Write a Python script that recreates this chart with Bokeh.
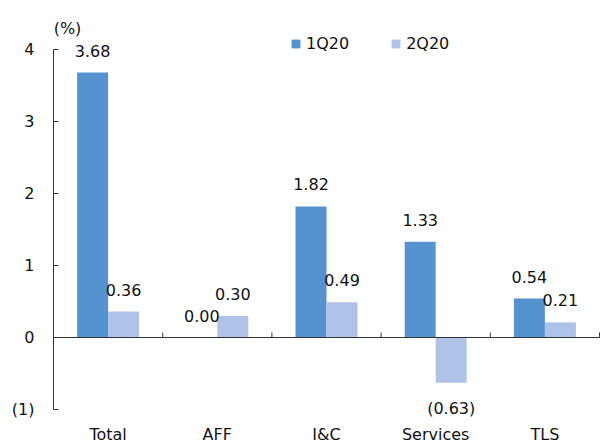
from bokeh.plotting import figure
from bokeh.models import Range1d, FixedTicker, Label, Legend, LegendItem, ColumnDataSource
from bokeh.embed import file_html
from bokeh.resources import INLINE
from bokeh.core.properties import value

# Growth by sector, quarter over quarter (%)
categories = ["Total", "AFF", "I&C", "Services", "TLS"]
q1_values = [3.68, 0.00, 1.82, 1.33, 0.54]
q2_values = [0.36, 0.30, 0.49, -0.63, 0.21]
series_names = ["1Q20", "2Q20"]
y_ticks = [-1, 0, 1, 2, 3, 4]
y_tick_labels = ["(1)", "0", "1", "2", "3", "4"]

COLOR_Q1 = "#5592d0"
COLOR_Q2 = "#aec3e7"
TEXT_COLOR = "#111111"
FONT = "DejaVu Sans"
FS = "16px"

PX_X = 109.2   # pixels per category
PX_Y = 72.0    # pixels per percentage point
BAR_W = 31 / PX_X


def fmt(v):
    return f"({abs(v):.2f})" if v < 0 else f"{v:.2f}"


n = len(categories)
idx = list(range(n))

p = figure(
    width=601, height=443,
    x_range=Range1d(-0.5, n - 0.5 + 2 / PX_X),
    y_range=Range1d(-1 - 34 / PX_Y, 4 + 49 / PX_Y),
    min_border_left=53, min_border_right=0, min_border_top=0, min_border_bottom=0,
    x_axis_location=None,
    output_backend="svg", toolbar_location=None,
)
p.outline_line_color = None
p.grid.grid_line_color = None
p.background_fill_color = "white"
p.border_fill_color = "white"

# y axis limited to the -1..4 span
yax = p.yaxis[0]
yax.bounds = (-1, 4)
yax.ticker = FixedTicker(ticks=y_ticks)
yax.major_label_overrides = {t: lab for t, lab in zip(y_ticks, y_tick_labels)}
yax.major_tick_in = 5
yax.major_tick_out = 0
yax.minor_tick_line_color = None
yax.axis_line_color = "#333333"
yax.major_tick_line_color = "#333333"
yax.major_label_standoff = 19
yax.major_label_text_font = FONT
yax.major_label_text_font_size = FS
yax.major_label_text_color = TEXT_COLOR

# bars
x_q1 = [i - BAR_W / 2 for i in idx]
x_q2 = [i + BAR_W / 2 for i in idx]
src = ColumnDataSource(dict(x1=x_q1, x2=x_q2, v1=q1_values, v2=q2_values))
r1 = p.vbar(x="x1", top="v1", bottom=0, width=BAR_W, source=src,
            fill_color=COLOR_Q1, line_color=None)
r2 = p.vbar(x="x2", top="v2", bottom=0, width=BAR_W, source=src,
            fill_color=COLOR_Q2, line_color=None)

# zero line with category separator ticks
p.segment(x0=[-0.5], y0=[0], x1=[n - 0.5], y1=[0], line_color="#333333", line_width=1)
p.segment(x0=[i + 0.5 for i in idx], y0=[0] * n,
          x1=[i + 0.5 for i in idx], y1=[5 / PX_Y] * n,
          line_color="#333333", line_width=1)

# value labels
lab_x = x_q1 + x_q2
lab_v = q1_values + q2_values
lab_src = ColumnDataSource(dict(
    x=lab_x, y=lab_v, t=[fmt(v) for v in lab_v],
    off=[-22 if v >= 0 else 26 for v in lab_v],
))
p.text(x="x", y="y", text="t", y_offset="off", source=lab_src,
       text_align="center", text_baseline="middle",
       text_font=value(FONT), text_font_size=FS, text_color=TEXT_COLOR)

# category labels
p.text(x=idx, y=[-1] * n, text=categories, y_offset=25,
       text_align="center", text_baseline="middle",
       text_font=value(FONT), text_font_size=FS, text_color=TEXT_COLOR)

# unit label
p.add_layout(Label(x=-0.5, y=4, x_offset=14, y_offset=21, text="(%)",
                   text_align="center", text_baseline="middle",
                   text_font=FONT, text_font_size=FS, text_color=TEXT_COLOR))

legend = Legend(
    items=[LegendItem(label=series_names[0], renderers=[r1]),
           LegendItem(label=series_names[1], renderers=[r2])],
    orientation="horizontal", location=(237, 390),
    glyph_width=11, glyph_height=11, label_standoff=5, spacing=41,
    padding=0, margin=0, border_line_color=None, background_fill_alpha=0,
    label_text_font=FONT, label_text_font_size=FS, label_text_color=TEXT_COLOR,
)
p.add_layout(legend)

open("out.html", "w").write(file_html(p, INLINE))
